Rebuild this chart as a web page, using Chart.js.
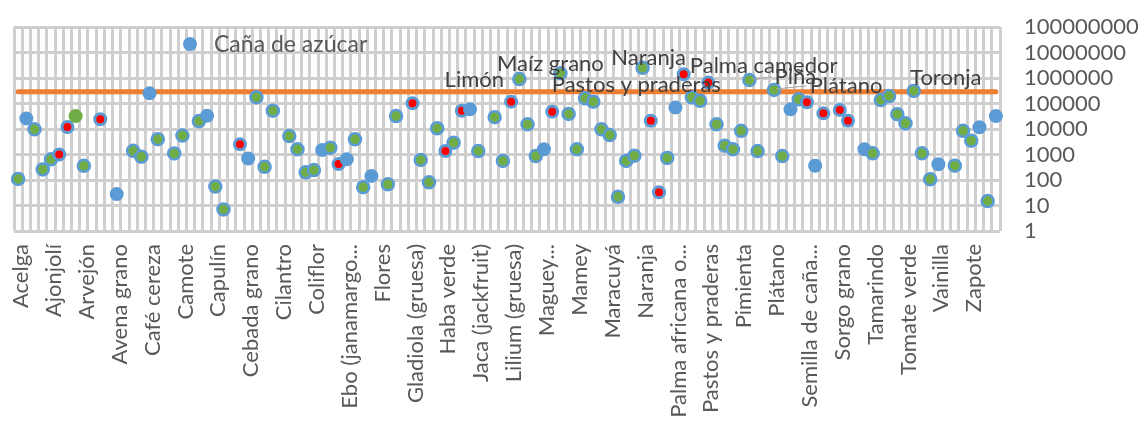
<!DOCTYPE html>
<html>
<head>
<meta charset="utf-8">
<script src="https://cdn.jsdelivr.net/npm/chart.js@4.4.0/dist/chart.umd.min.js"></script>
<style>
html, body { margin: 0; padding: 0; background: #fff; }
</style>
</head>
<body>
<canvas id="grafica" width="1146" height="424"></canvas>
<script>

const categorias = [
    "Acelga", "Achiote", "Aguacate", "Ajo", "Ajonjolí", "Alfalfa verde", "Algodón hueso", "Amaranto",
    "Arvejón", "Avellana", "Avena forrajera en verde", "Avena forrajera seca", "Avena grano", "Berenjena", "Betabel", "Brócoli",
    "Café cereza", "Calabacita", "Calabaza", "Calabaza (semilla) o chihua", "Camote", "Canela", "Canola", "Caña de azúcar",
    "Capulín", "Cardo", "Cártamo", "Cebada forrajera en verde", "Cebada grano", "Cebolla", "Chayote", "Chile verde",
    "Cilantro", "Ciruela", "Clavel", "Col (repollo)", "Coliflor", "Copra", "Crisantemo", "Durazno",
    "Ebo (janamargo o veza)", "Ejote", "Elote", "Espárrago", "Flores", "Frambuesa", "Fresa", "Frijol",
    "Gladiola (gruesa)", "Granada", "Guanábana", "Guayaba", "Haba verde", "Higo", "Huauzontle", "Hule hevea",
    "Jaca (jackfruit)", "Jamaica", "Jícama", "Lechuga", "Lilium (gruesa)", "Limón", "Litchi", "Macadamia",
    "Maguey pulquero (miles de litros)", "Maíz forrajero en verde", "Maíz grano", "Malanga", "Mamey", "Mandarina", "Mango", "Manzana",
    "Maracuyá", "Melón", "Nabo", "Nanche", "Naranja", "Nopalitos", "Nuez", "Ornamentales",
    "Palma africana o de aceite", "Palma camedor", "Papa", "Papaya", "Pastos y praderas", "Pepino", "Pera", "Perejil",
    "Pimienta", "Piña", "Pitahaya", "Pitaya", "Plátano", "Rábano", "Rambután", "Romerito",
    "Semilla de caña de azúcar", "Semilla de pastos", "Sorgo escobero", "Sorgo forrajero en verde", "Sorgo grano", "Sorgo semilla", "Soya", "Tabaco",
    "Tamarindo", "Tangerina", "Tejocote", "Tomate rojo (jitomate)", "Tomate verde", "Toronja", "Trigo grano", "Tuna",
    "Vainilla", "Vid", "Yuca", "Zanahoria", "Zapote", "Zapote chico", "Zarzamora", "Zempoalxóchitl"
];

const valores = [
    110, 26000, 9700, 260, 650, 1000, 12000, 32000,
    360, null, 24000, null, 28, null, 1400, 820,
    250000, 4000, null, 1100, 5500, null, 20500, 33000,
    55, 7, null, 2500, 700, 175000, 330, 52000,
    null, 5300, 1600, 200, 245, 1500, 1850, 420,
    650, 3950, 52, 145, null, 68, 32000, null,
    102000, 610, 81, 10700, 1370, 2900, 52000, 59000,
    1370, null, 29000, 560, 118000, 910000, 15200, 870,
    1600, 48000, 1520000, 39000, 1600, 160000, 118000, 9700,
    5800, 22, 560, 900, 2500000, 21000, 33, 730,
    69000, 1400000, 175000, 128000, 660000, 15200, 2220, 1600,
    8500, 830000, 1370, null, 340000, 870, 59000, 146000,
    112000, 364, 41000, null, 56000, 21000, null, 1600,
    1110, 137000, 196000, 38000, 16700, 310000, 1110, 107,
    415, null, 364, 8500, 3470, 11700, 15, 32000
];

// a = azul, v = verde, r = rojo, V = verde sin borde
const grupo = [
    "v", "a", "v", "v", "v", "r", "r", "V",
    "v", null, "r", null, "a", null, "v", "v",
    "a", "v", null, "v", "v", null, "v", "a",
    "v", "v", null, "r", "a", "v", "v", "v",
    null, "v", "v", "v", "v", "a", "v", "r",
    "a", "v", "v", "a", null, "v", "v", null,
    "r", "v", "v", "v", "r", "v", "r", "a",
    "v", null, "v", "v", "r", "v", "v", "v",
    "a", "r", "v", "v", "v", "v", "v", "v",
    "v", "v", "v", "v", "v", "r", "r", "v",
    "a", "r", "v", "v", "r", "v", "v", "v",
    "v", "v", "v", null, "v", "v", "a", "v",
    "r", "a", "r", null, "r", "r", null, "a",
    "v", "v", "v", "v", "v", "v", "v", "v",
    "a", null, "v", "v", "v", "a", "v", "a"
];

const etiquetasEje = [
    "Acelga", "Ajonjolí", "Arvejón", "Avena grano", "Café cereza", "Camote",
    "Capulín", "Cebada grano", "Cilantro", "Coliflor", "Ebo (janamargo...",
    "Flores", "Gladiola (gruesa)", "Haba verde", "Jaca (jackfruit)", "Lilium (gruesa)",
    "Maguey...", "Mamey", "Maracuyá", "Naranja", "Palma africana o...",
    "Pastos y praderas", "Pimienta", "Plátano", "Semilla de caña...", "Sorgo grano",
    "Tamarindo", "Tomate verde", "Vainilla", "Zapote"
];

const yTicks = [1, 10, 100, 1000, 10000, 100000, 1000000, 10000000, 100000000];

const umbral = 290000;

const conEtiqueta = [61, 66, 76, 81, 84, 89, 92, 109];


/* =========================
      ESTILOS
========================= */

const AZUL = "#5B9BD5";
const VERDE = "#70AD47";
const ROJO = "#FF0000";
const NARANJA = "#ED7D31";
const GRIS_TEXTO = "#595959";
const GRIS_REJILLA = "#CFCFCF";
const FUENTE = "Lato";

const estiloPunto = {
    a: { bg: AZUL, borde: AZUL, radio: 6, ancho: 2 },
    v: { bg: VERDE, borde: AZUL, radio: 6, ancho: 2.5 },
    r: { bg: ROJO, borde: AZUL, radio: 5.5, ancho: 3 },
    V: { bg: VERDE, borde: VERDE, radio: 6, ancho: 2 }
};

// posicion de cada etiqueta de datos respecto a su punto
const posEtiqueta = {
    61: { dx: -45, dy: 1 },
    66: { dx: -10, dy: -9 },
    76: { dx: 6, dy: -10 },
    81: { dx: 80, dy: -8 },
    84: { dx: -72, dy: 2 },
    89: { dx: 46, dy: -3, guia: true },
    92: { dx: 72, dy: -4, guia: true },
    109: { dx: 32, dy: -13 }
};

function estilo(i) {
    return estiloPunto[grupo[i]] || estiloPunto.a;
}

const etiquetasDatos = {
    id: "etiquetasDatos",
    afterDatasetsDraw(chart) {
        const ctx = chart.ctx;
        const xs = chart.scales.x;
        const ys = chart.scales.y;
        ctx.save();
        ctx.font = "22px " + FUENTE;
        ctx.textAlign = "center";
        ctx.textBaseline = "middle";
        conEtiqueta.forEach(i => {
            const px = xs.getPixelForValue(i);
            const py = ys.getPixelForValue(valores[i]);
            const p = posEtiqueta[i];
            const texto = categorias[i];
            const tx = px + p.dx;
            const ty = py + p.dy;
            if (p.guia) {
                const w = ctx.measureText(texto).width;
                ctx.strokeStyle = "#A6A6A6";
                ctx.lineWidth = 1;
                ctx.beginPath();
                ctx.moveTo(px + 2, py - 1);
                ctx.lineTo(tx - w / 2 - 3, ty);
                ctx.stroke();
            }
            ctx.fillStyle = "#404040";
            ctx.fillText(texto, tx, ty);
        });
        ctx.restore();
    }
};

const leyenda = {
    id: "leyenda",
    afterDraw(chart) {
        const ctx = chart.ctx;
        const a = chart.chartArea;
        const x = a.left + 176;
        const y = a.top + 17;
        ctx.save();
        ctx.fillStyle = AZUL;
        ctx.beginPath();
        ctx.arc(x, y, 7, 0, Math.PI * 2);
        ctx.fill();
        ctx.font = "23px " + FUENTE;
        ctx.fillStyle = GRIS_TEXTO;
        ctx.textAlign = "left";
        ctx.textBaseline = "middle";
        ctx.fillText(chart.data.datasets[0].label, x + 24, y + 1);
        ctx.restore();
    }
};


/* =========================
      GRAFICA
========================= */

new Chart(document.getElementById("grafica"), {

    type: "line",

    data: {
        labels: categorias,
        datasets: [
            {
                label: "Caña de azúcar",
                data: valores,
                showLine: false,
                order: 1,
                pointBackgroundColor: valores.map((v, i) => estilo(i).bg),
                pointBorderColor: valores.map((v, i) => estilo(i).borde),
                pointRadius: valores.map((v, i) => estilo(i).radio),
                pointHoverRadius: valores.map((v, i) => estilo(i).radio),
                pointBorderWidth: valores.map((v, i) => estilo(i).ancho),
                pointHoverBorderWidth: valores.map((v, i) => estilo(i).ancho)
            },
            {
                label: "Referencia",
                data: categorias.map(() => umbral),
                order: 5,
                borderColor: NARANJA,
                borderWidth: 5,
                borderCapStyle: "round",
                pointRadius: 0,
                pointHoverRadius: 0,
                fill: false,
                tension: 0
            }
        ]
    },

    options: {
        responsive: false,
        animation: false,
        layout: {
            padding: { left: 14, top: 27, right: 0, bottom: 0 }
        },
        plugins: {
            legend: { display: false },
            tooltip: { enabled: true }
        },
        scales: {
            x: {
                type: "category",
                offset: true,
                grid: {
                    offset: true,
                    color: GRIS_REJILLA,
                    lineWidth: 3,
                    drawTicks: false
                },
                border: { display: false },
                ticks: {
                    autoSkip: false,
                    maxRotation: 90,
                    minRotation: 90,
                    padding: 13,
                    labelOffset: 3,
                    color: GRIS_TEXTO,
                    font: { family: FUENTE, size: 22 },
                    callback: (v, i) => (i % 4 === 0 ? etiquetasEje[i / 4] : "")
                },
                afterFit: s => { s.height = 193; }
            },
            y: {
                type: "logarithmic",
                position: "right",
                min: 1,
                max: 100000000,
                grid: {
                    color: GRIS_REJILLA,
                    lineWidth: 3,
                    drawTicks: true,
                    tickLength: 24,
                    tickColor: "rgba(0,0,0,0)"
                },
                border: { display: false },
                ticks: {
                    autoSkip: false,
                    padding: 0,
                    color: GRIS_TEXTO,
                    font: { family: FUENTE, size: 22 },
                    callback: v => String(v)
                },
                afterBuildTicks: s => { s.ticks = yTicks.map(v => ({ value: v })); },
                afterFit: s => { s.width = 146; }
            }
        }
    },

    plugins: [etiquetasDatos, leyenda]

});

</script>
</body>
</html>
